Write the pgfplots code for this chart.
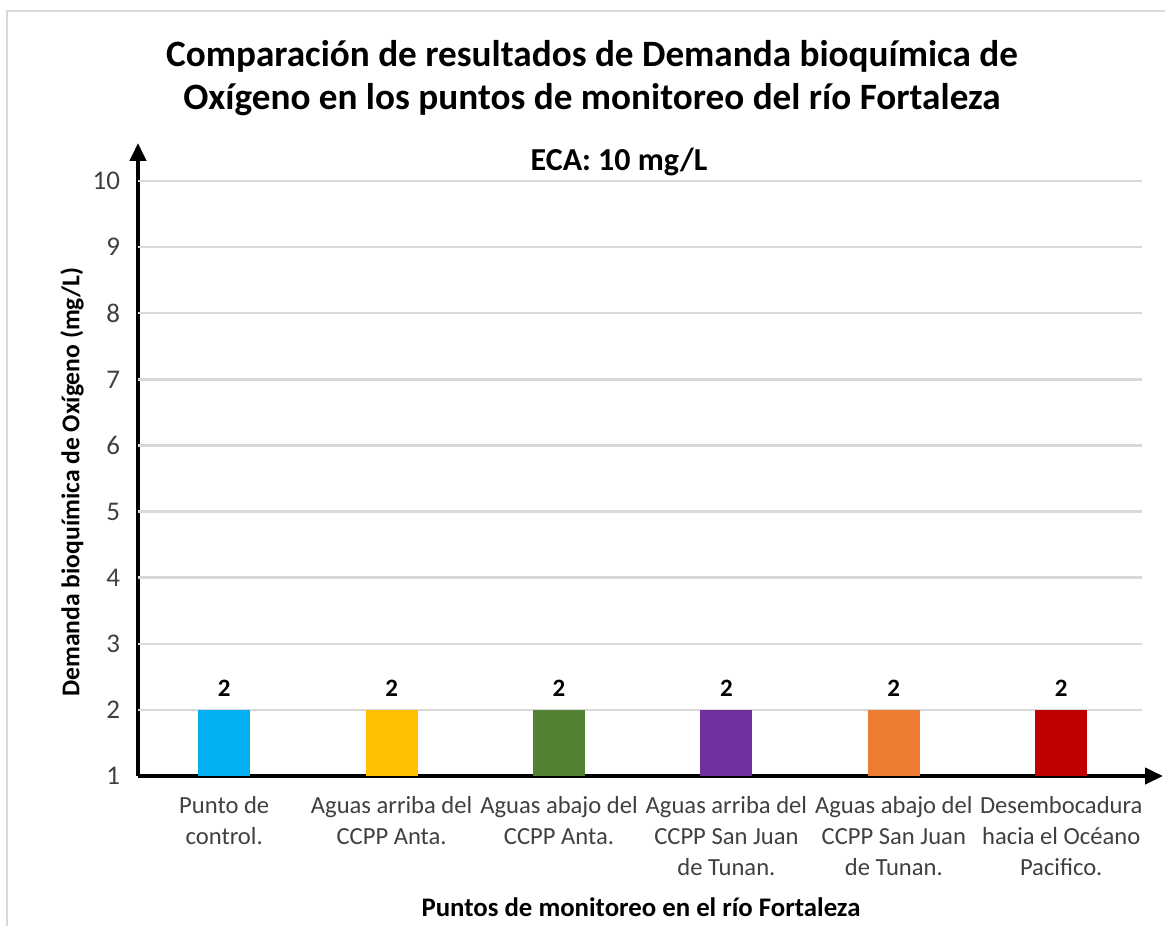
\documentclass[border=0pt]{standalone}
\usepackage{fontspec}
\setmainfont{Carlito}
\usepackage{pgfplots}
\pgfplotsset{compat=1.18}
\usetikzlibrary{arrows.meta}
\definecolor{cblue}{HTML}{00B0F0}
\definecolor{cgold}{HTML}{FFC000}
\definecolor{cgreen}{HTML}{548235}
\definecolor{cpurple}{HTML}{7030A0}
\definecolor{corange}{HTML}{ED7D31}
\definecolor{cred}{HTML}{C00000}
\definecolor{gridgray}{HTML}{D9D9D9}
\definecolor{ticktext}{HTML}{404040}

\begin{document}
\begin{tikzpicture}
% canvas: 1px = 0.5pt, origin at top left
\path[use as bounding box] (0,0) rectangle (582.5pt,-463pt);
\draw[gridgray, line width=1pt] (3.5pt,-463pt) -- (3.5pt,-5.5pt) -- (582.5pt,-5.5pt);

\begin{axis}[
    at={(69pt,-388pt)}, anchor=south west,
    scale only axis, width=512.5pt, height=316.5pt,
    xmin=-0.515, xmax=5.608,
    ymin=1, ymax=10.575,
    axis lines=left,
    axis line style={line width=2pt, -{Triangle[length=9pt,width=8pt]}},
    ytick={1,2,...,10},
    xtick={0,1,2,3,4,5},
    xticklabels={Punto de\\control., Aguas arriba del\\CCPP Anta., Aguas abajo del\\CCPP Anta.,
      Aguas arriba del\\CCPP San Juan\\de Tunan., Aguas abajo del\\CCPP San Juan\\de Tunan.,
      Desembocadura\\hacia el Océano\\Pacifico.},
    major tick length=0pt,
    /pgf/number format/assume math mode=true,
    tick label style={text=ticktext},
    xticklabel style={font=\fontsize{12.3}{15.5}\selectfont, align=center, yshift=-6.5pt},
    yticklabel style={font=\fontsize{13.5}{16}\selectfont, xshift=-5.5pt},
    ybar, bar width=26pt, bar shift=0pt,
    nodes near coords,
    every node near coord/.append style={font=\fontsize{12.5}{15}\selectfont\bfseries, text=black, yshift=3pt},
]
\pgfplotsinvokeforeach{2,...,10}{
  \draw[gridgray, line width=1.2pt] (axis cs:-0.515,#1) -- (axis cs:5.483,#1);
}
\addplot[fill=cblue, draw=none] coordinates {(0,2)};
\addplot[fill=cgold, draw=none] coordinates {(1,2)};
\addplot[fill=cgreen, draw=none] coordinates {(2,2)};
\addplot[fill=cpurple, draw=none] coordinates {(3,2)};
\addplot[fill=corange, draw=none] coordinates {(4,2)};
\addplot[fill=cred, draw=none] coordinates {(5,2)};
\end{axis}

\node[align=center, font=\fontsize{18.6}{21.5}\selectfont\bfseries] at (296pt,-39.25pt)
  {Comparación de resultados de Demanda bioquímica de\\Oxígeno en los puntos de monitoreo del río Fortaleza};
\node[font=\fontsize{16}{19}\selectfont\bfseries] at (309.5pt,-81pt) {ECA: 10 mg/L};
\node[rotate=90, font=\fontsize{12.8}{15}\selectfont\bfseries] at (36pt,-241pt)
  {Demanda bioquímica de Oxígeno (mg/L)};
\node[font=\fontsize{13.4}{16}\selectfont\bfseries] at (320.5pt,-453.5pt)
  {Puntos de monitoreo en el río Fortaleza};
\end{tikzpicture}
\end{document}
